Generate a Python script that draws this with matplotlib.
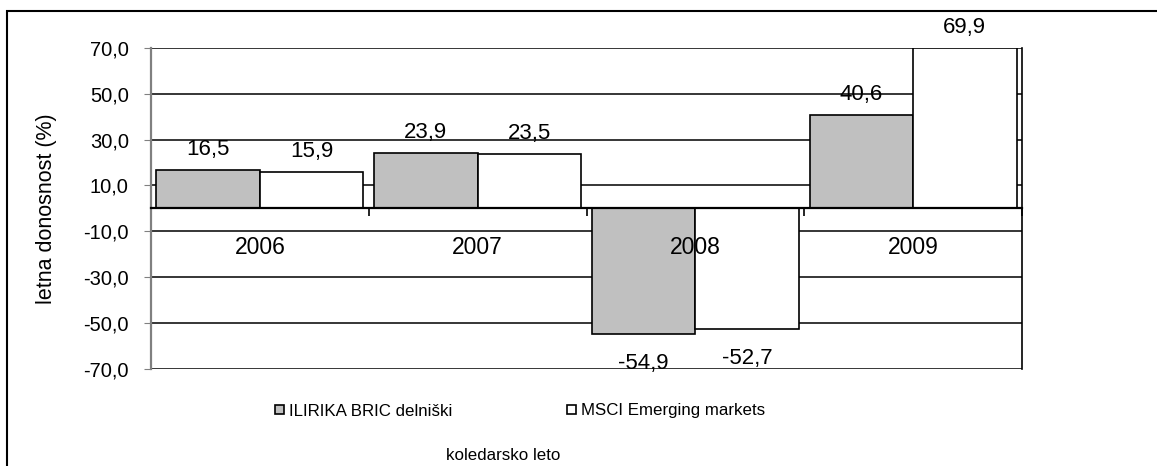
import matplotlib
matplotlib.use("Agg")
import matplotlib.pyplot as plt
from matplotlib.patches import Rectangle
import numpy as np

years = ["2006", "2007", "2008", "2009"]
ilirika = [16.5, 23.9, -54.9, 40.6]
msci = [15.9, 23.5, -52.7, 69.9]
series_names = ["ILIRIKA BRIC delniški", "MSCI Emerging markets"]
yticks = [-70, -50, -30, -10, 10, 30, 50, 70]

def fmt(v):
    return f"{v:.1f}".replace(".", ",")

plt.rcParams['font.family'] = ['Liberation Sans', 'DejaVu Sans']
nsize = 12.2

W, H = 1157, 466
fig = plt.figure(figsize=(W / 100, H / 100), dpi=100)
L, R, T, B = 151, 1022, 47.7, 369
ax = fig.add_axes([L / W, 1 - B / H, (R - L) / W, (B - T) / H])

x = np.arange(len(years))
w = 0.475
b1 = ax.bar(x - w / 2, ilirika, w, color="#C0C0C0", edgecolor="black", linewidth=1.2, zorder=3,
            label=series_names[0])
b2 = ax.bar(x + w / 2, msci, w, color="white", edgecolor="black", linewidth=1.2, zorder=3,
            label=series_names[1])

for bars, vals in ((b1, ilirika), (b2, msci)):
    for rect, v in zip(bars, vals):
        cx = rect.get_x() + rect.get_width() / 2
        off = 15 if v >= 0 else -21
        ax.annotate(fmt(v), (cx, v), xytext=(0, off), textcoords="offset points",
                    ha="center", va="center", fontsize=16, zorder=4)

# category labels drawn above the bars
for xi, yr in zip(x, years):
    ax.annotate(yr, (xi, 0), xytext=(0, -28), textcoords="offset points",
                ha="center", va="center", fontsize=16.5, zorder=6)

ax.set_xlim(-0.5, len(years) - 0.5)
ax.set_ylim(-70, 70)
ax.set_yticks(yticks)
ax.set_yticklabels([fmt(v) for v in yticks], fontsize=14.5)
ax.yaxis.grid(True, color="black", linewidth=1.1, zorder=0)
ax.set_axisbelow(True)
ax.tick_params(axis="y", length=5, color="#808080", pad=11)

ax.spines["bottom"].set_position(("data", 0))
ax.spines["bottom"].set_linewidth(1.6)
ax.spines["bottom"].set_zorder(5)
ax.spines["top"].set_visible(False)
ax.spines["left"].set_color("#808080")
ax.spines["left"].set_linewidth(1.6)
ax.spines["right"].set_color("black")
ax.spines["right"].set_linewidth(1.2)

ax.set_xticks(np.arange(len(years) + 1) - 0.5)
ax.set_xticklabels([])
ax.tick_params(axis="x", which="major", length=6, width=1.2, color="black")

ax.set_ylabel("letna donosnost (%)", fontsize=15.5)
ax.yaxis.set_label_coords(-0.108, 0.5)

fig.legend(handles=[b1, b2], labels=series_names, loc="center",
           bbox_to_anchor=(520 / W, 1 - 411 / H), ncol=2, frameon=False,
           prop={"size": nsize}, handlelength=0.5, handleheight=0.5,
           handletextpad=0.3, columnspacing=6.8)

fig.text(503 / W, 1 - 455 / H, "koledarsko leto", ha="center", va="center",
         fontsize=nsize)

fig.patches.append(Rectangle((7 / W, -0.1), 1.2, 1.1 - 11 / H, transform=fig.transFigure,
                             fill=False, edgecolor="black", linewidth=1.5))

fig.savefig("out.png", dpi=100)
